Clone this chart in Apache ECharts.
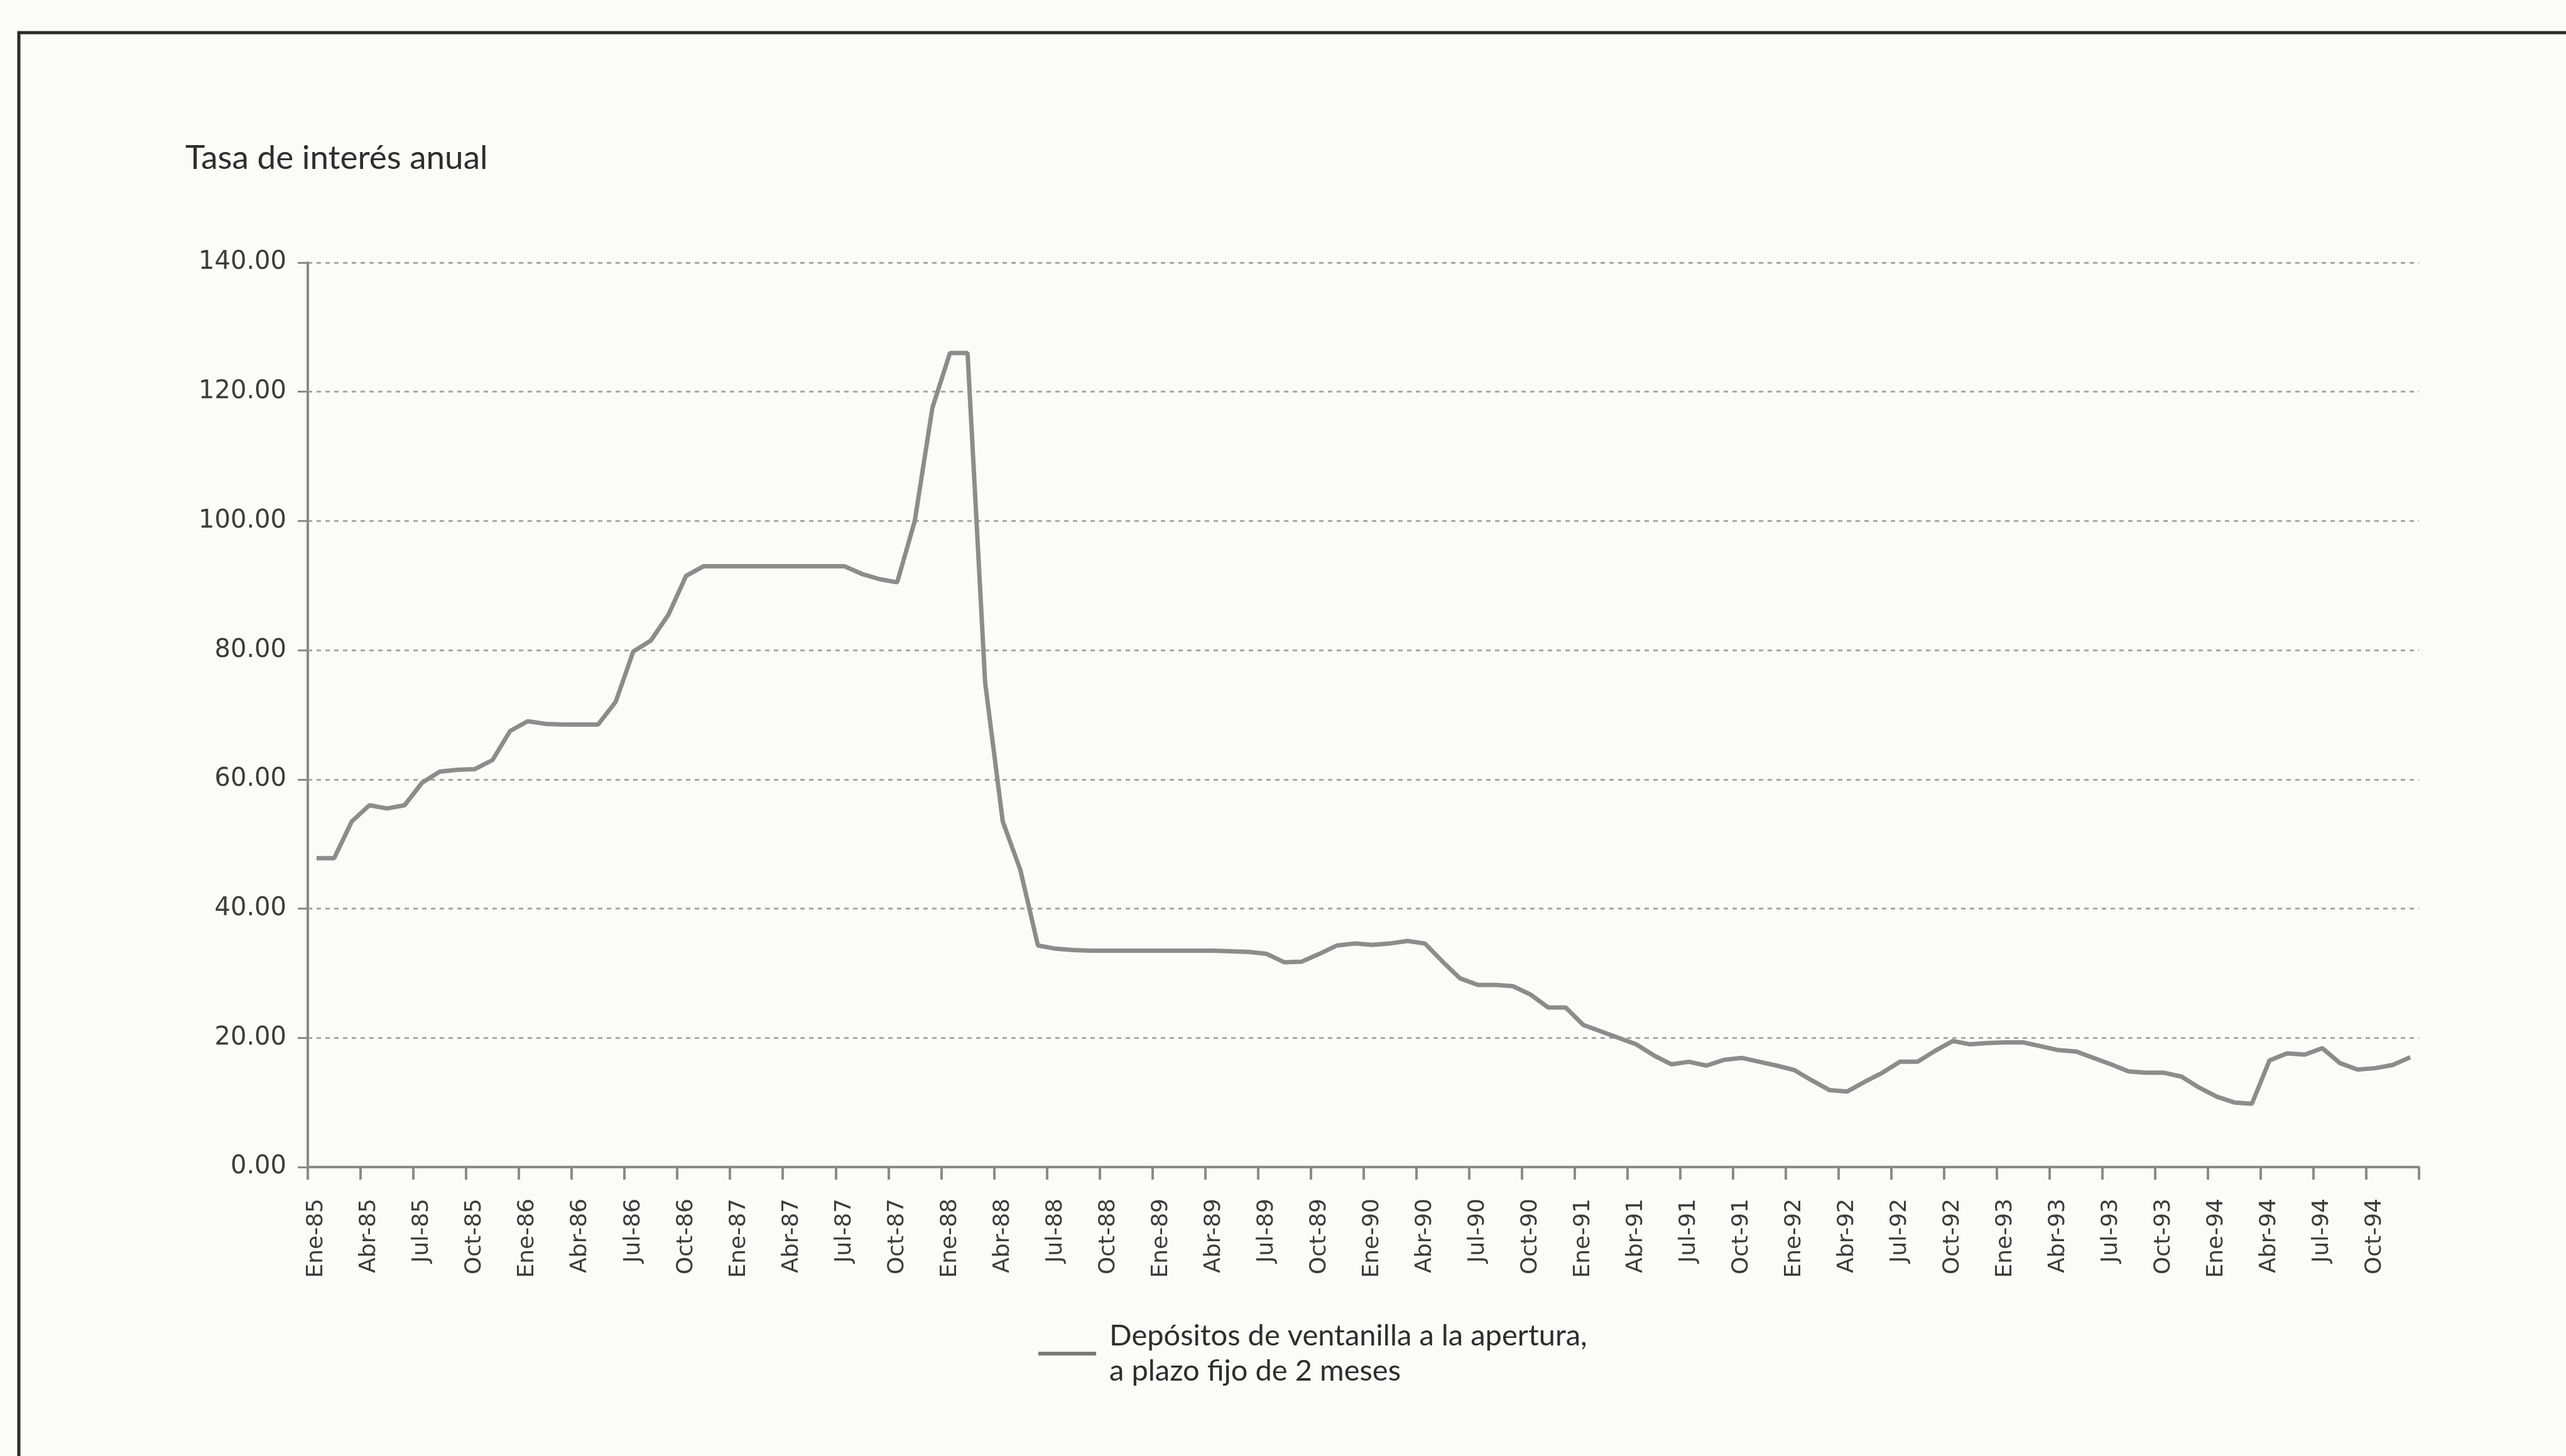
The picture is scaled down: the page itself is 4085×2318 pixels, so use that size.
<!DOCTYPE html>
<html>
<head>
<meta charset="utf-8">
<script src="https://cdn.jsdelivr.net/npm/echarts@6/dist/echarts.min.js"></script>
<style>
html,body{margin:0;padding:0;background:#f7f7f5;}
#chart{width:4085px;height:2318px;}
</style>
</head>
<body>
<div id="chart"></div>
<script>
// Month abbreviations and years of the monthly series (Ene-85 .. Dic-94)
var monthNames = ['Ene','Feb','Mar','Abr','May','Jun','Jul','Ago','Sep','Oct','Nov','Dic'];
var years = ['85','86','87','88','89','90','91','92','93','94'];

// Annual interest rate, monthly values, one array per year
var v1985 = [47.8, 47.8, 53.5, 56.0, 55.5, 56.0, 59.5, 61.2, 61.5, 61.6, 63.0, 67.5];
var v1986 = [69.0, 68.6, 68.5, 68.5, 68.5, 72.0, 79.8, 81.5, 85.5, 91.5, 93.0, 93.0];
var v1987 = [93.0, 93.0, 93.0, 93.0, 93.0, 93.0, 93.0, 91.8, 91.0, 90.5, 100.0, 117.5];
var v1988 = [126.0, 126.0, 75.0, 53.5, 46.0, 34.3, 33.8, 33.6, 33.5, 33.5, 33.5, 33.5];
var v1989 = [33.5, 33.5, 33.5, 33.5, 33.4, 33.3, 33.0, 31.7, 31.8, 33.0, 34.3, 34.6];
var v1990 = [34.4, 34.6, 35.0, 34.6, 31.8, 29.2, 28.2, 28.2, 28.0, 26.7, 24.7, 24.7];
var v1991 = [22.0, 21.0, 20.0, 19.0, 17.3, 15.9, 16.3, 15.7, 16.6, 16.9, 16.3, 15.7];
var v1992 = [15.0, 13.4, 11.9, 11.7, 13.2, 14.6, 16.3, 16.3, 18.0, 19.5, 19.0, 19.2];
var v1993 = [19.3, 19.3, 18.7, 18.1, 17.9, 16.9, 15.9, 14.8, 14.6, 14.6, 14.0, 12.3];
var v1994 = [10.9, 10.0, 9.8, 16.5, 17.6, 17.4, 18.4, 16.1, 15.1, 15.3, 15.8, 17.0];

var yTicks = [0, 20, 40, 60, 80, 100, 120, 140];
var seriesName = 'Depósitos de ventanilla a la apertura,\na plazo fijo de 2 meses';
var yAxisTitle = 'Tasa de interés anual';

var categories = [];
years.forEach(function (y) { monthNames.forEach(function (m) { categories.push(m + '-' + y); }); });
var values = [].concat(v1985, v1986, v1987, v1988, v1989, v1990, v1991, v1992, v1993, v1994);

var chart = echarts.init(document.getElementById('chart'), null, {renderer: 'canvas'});
chart.setOption({
  backgroundColor: '#fbfbfa',
  animation: false,
  title: {
    text: yAxisTitle,
    left: 290, top: 220,
    textStyle: {fontFamily: 'Lato', fontSize: 53, fontWeight: 'normal', color: '#2e2e2e'}
  },
  graphic: [{
    type: 'rect',
    shape: {x: 30, y: 52, width: 4200, height: 2400},
    style: {fill: 'none', stroke: '#2a2a2a', lineWidth: 5},
    silent: true
  }],
  legend: {
    left: 1648, top: 2066,
    itemWidth: 92, itemHeight: 6,
    icon: 'rect',
    data: [{name: seriesName, icon: 'rect', itemStyle: {color: '#7a7a7a'}}],
    textStyle: {fontFamily: 'Lato', fontSize: 47, color: '#2e2e2e', lineHeight: 56, padding: [56, 0, 0, 16]}
  },
  grid: {left: 490, right: 234, top: 418, bottom: 460, containLabel: false},
  xAxis: {
    type: 'category',
    data: categories,
    boundaryGap: true,
    axisLine: {lineStyle: {color: '#8a8a8a', width: 4}},
    axisTick: {show: true, interval: 2, length: 20, lineStyle: {color: '#8a8a8a', width: 4}},
    axisLabel: {interval: 2, rotate: 90, margin: 50, fontFamily: 'DejaVu Sans', fontSize: 36, color: '#3c3c3c'},
    splitLine: {show: false}
  },
  yAxis: {
    type: 'value',
    min: yTicks[0], max: yTicks[yTicks.length - 1], interval: 20,
    axisLine: {show: true, lineStyle: {color: '#8a8a8a', width: 4}},
    axisTick: {show: true, length: 16, lineStyle: {color: '#8a8a8a', width: 3}},
    axisLabel: {margin: 34, fontFamily: 'DejaVu Sans', fontSize: 40, color: '#3c3c3c',
      formatter: function (v) { return v.toFixed(2); }},
    splitLine: {show: true, lineStyle: {color: '#a8a8a8', width: 3, type: [7, 7]}}
  },
  series: [{
    name: seriesName,
    type: 'line',
    data: values,
    showSymbol: false,
    symbol: 'none',
    lineStyle: {color: '#8c8c8c', width: 7},
    itemStyle: {color: '#8c8c8c'}
  }]
});
</script>
</body>
</html>
